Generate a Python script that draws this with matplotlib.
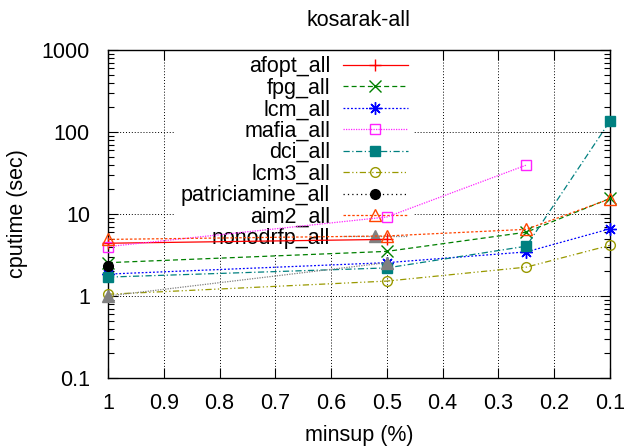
import numpy as np
import matplotlib
matplotlib.use('Agg')
import matplotlib.pyplot as plt
from matplotlib.ticker import LogLocator, NullFormatter, FixedLocator

plt.rcParams['font.family'] = ['Liberation Sans', 'DejaVu Sans']

# minsup 取值 (%)
minsup = [1, 0.5, 0.25, 0.1]

# 各算法 cputime (sec)，缺失点即曲线在该处结束
afopt_all = [4.4, 4.9]
fpg_all = [2.55, 3.5, 6.0, 15.5]
lcm_all = [1.85, 2.55, 3.45, 6.6]
mafia_all = [4.0, 9.2, 39.5]
dci_all = [1.7, 2.2, 4.05, 136]
lcm3_all = [1.05, 1.52, 2.25, 4.15]
patriciamine_all = [2.3]
aim2_all = [4.9, 5.4, 6.5, 15.3]
nonodrfp_all = [1.0, 2.55]

ASTERISK = (8, 2, 0)  # gnuplot 风格的 "*" 点型

series = [
    ('afopt_all', afopt_all, '#ff0000', '-', '+', 'full'),
    ('fpg_all', fpg_all, '#008000', (0, (4, 2.5)), 'x', 'full'),
    ('lcm_all', lcm_all, '#0000ff', (0, (1.5, 1.5)), ASTERISK, 'full'),
    ('mafia_all', mafia_all, '#ff22ff', (0, (1, 1)), 's', 'none'),
    ('dci_all', dci_all, '#008080', (0, (5, 2, 1, 2)), 's', 'full'),
    ('lcm3_all', lcm3_all, '#999900', (0, (5, 2, 1, 2, 1, 2)), 'o', 'none'),
    ('patriciamine_all', patriciamine_all, '#000000', (0, (1, 2.5)), 'o', 'full'),
    ('aim2_all', aim2_all, '#ff4500', (0, (2, 1.5)), '^', 'none'),
    ('nonodrfp_all', nonodrfp_all, '#808080', (0, (1, 1)), '^', 'full'),
]

fig = plt.figure(figsize=(6.29, 4.47), dpi=100)
ax = fig.add_axes([108 / 629, 1 - 378 / 447, 502 / 629, 328 / 447])

for name, vals, color, ls, marker, fill in series:
    xs = minsup[:len(vals)]
    ms = 7 if marker in ('s', 'o') else 9
    ax.plot(xs, vals, linestyle=ls, color=color, marker=marker,
            fillstyle=fill, markersize=ms, linewidth=0.9,
            markeredgewidth=1.0, label=name, zorder=3, clip_on=False)

ax.set_yscale('log')
ax.set_ylim(0.1, 1000)
ax.set_xlim(1, 0.1)

xticks = [1, 0.9, 0.8, 0.7, 0.6, 0.5, 0.4, 0.3, 0.2, 0.1]
ax.xaxis.set_major_locator(FixedLocator(xticks))
ax.set_xticklabels([str(t) for t in xticks])
ax.yaxis.set_minor_locator(LogLocator(base=10, subs=np.arange(2, 10), numticks=10))
ax.yaxis.set_minor_formatter(NullFormatter())
ax.set_yticks([0.1, 1, 10, 100, 1000])
ax.set_yticklabels(['0.1', '1', '10', '100', '1000'])

ax.tick_params(which='both', direction='in', top=True, right=True,
               labelsize=15.5, width=0.8)
ax.tick_params(which='major', length=7)
ax.tick_params(axis='x', which='major', pad=11)
ax.tick_params(axis='y', which='major', pad=13)
ax.tick_params(which='minor', length=4)

ax.set_axisbelow(True)
ax.grid(True, which='major', color='black', linestyle=(0, (1, 2)), linewidth=0.7)
for s in ax.spines.values():
    s.set_linewidth(1.0)

ax.set_title('kosarak-all', fontsize=15.5, pad=17)
ax.set_xlabel('minsup (%)', fontsize=15.5, labelpad=8)
ax.set_ylabel('cputime (sec)', fontsize=15.5, labelpad=10)

leg = ax.legend(loc='upper right', bbox_to_anchor=(0.61, 1.0),
                markerfirst=False, frameon=True, fancybox=False,
                edgecolor='none', facecolor='white', framealpha=1.0,
                fontsize=15.5, handlelength=3.0, handletextpad=0.6,
                labelspacing=0.02, borderpad=0.3, borderaxespad=0,
                numpoints=1)
leg.set_zorder(2)

fig.savefig('out.png', dpi=100)
